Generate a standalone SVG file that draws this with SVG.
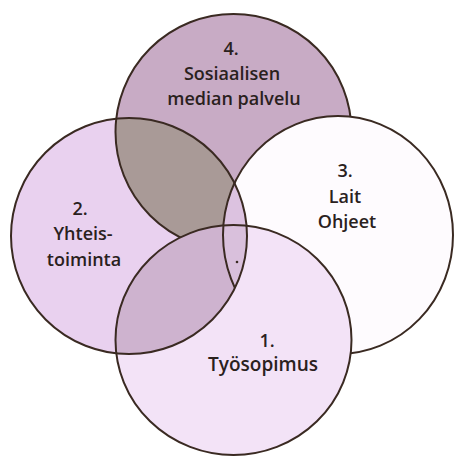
<svg xmlns="http://www.w3.org/2000/svg" width="455" height="459" viewBox="0 0 455 459">
  <defs>
    <clipPath id="clipT"><circle cx="233.5" cy="132" r="118"/></clipPath>
    <clipPath id="clipL"><circle cx="129" cy="236" r="118"/></clipPath>
    <clipPath id="clipR"><ellipse cx="338" cy="235" rx="115" ry="119"/></clipPath>
    <clipPath id="clipB"><ellipse cx="233.5" cy="340" rx="118" ry="115"/></clipPath>
  </defs>
  <style>
    .ln { stroke: #3a2a22; stroke-width: 2; }
    .nf { fill: none; }
    .lbl { font-family: "Open Sans", "Liberation Sans", sans-serif; font-weight: 600; font-size: 18px; fill: #2a211d; text-anchor: middle; }
  </style>
  <rect width="455" height="459" fill="#ffffff"/>
  <g id="circle-4">
    <circle cx="233.5" cy="132" r="118" fill="#c8abc5" class="ln"/>
  </g>
  <g id="circle-3">
    <ellipse cx="338" cy="235" rx="115" ry="119" fill="#fefbfe" class="ln"/>
  </g>
  <g id="circle-2">
    <circle cx="129" cy="236" r="118" fill="#e9d1ef"/>
  </g>
  <g id="overlap-2-4">
    <circle cx="233.5" cy="132" r="118" fill="#a99a97" clip-path="url(#clipL)"/>
  </g>
  <g id="overlap-2-3">
    <ellipse cx="338" cy="235" rx="115" ry="119" fill="#dcc2e0" clip-path="url(#clipL)"/>
  </g>
  <g id="edge-4-in-2">
    <circle cx="233.5" cy="132" r="118" class="ln nf" clip-path="url(#clipL)"/>
  </g>
  <g id="circle-1">
    <ellipse cx="233.5" cy="340" rx="118" ry="115" fill="#f3e3f7"/>
  </g>
  <g id="overlap-1-2">
    <circle cx="129" cy="236" r="118" fill="#ceb3cf" clip-path="url(#clipB)"/>
    <g clip-path="url(#clipL)">
      <ellipse cx="338" cy="235" rx="115" ry="119" fill="#d9c0dc" clip-path="url(#clipB)"/>
    </g>
  </g>
  <g id="connectors">
    <ellipse cx="338" cy="235" rx="115" ry="119" class="ln nf" clip-path="url(#clipL)"/>
    <circle cx="129" cy="236" r="118" class="ln nf"/>
    <ellipse cx="233.5" cy="340" rx="118" ry="115" class="ln nf"/>
    <circle cx="237" cy="262" r="1.3" fill="#3a2a22"/>
  </g>
  <g id="labels">
    <text class="lbl" x="231" y="55">4.</text>
    <text class="lbl" x="232" y="80">Sosiaalisen</text>
    <text class="lbl" x="234" y="105">median palvelu</text>
    <text class="lbl" x="345" y="177">3.</text>
    <text class="lbl" x="345" y="203">Lait</text>
    <text class="lbl" x="347" y="228">Ohjeet</text>
    <text class="lbl" x="80" y="215">2.</text>
    <text class="lbl" x="83" y="240">Yhteis-</text>
    <text class="lbl" x="84" y="266">toiminta</text>
    <text class="lbl" x="267" y="347">1.</text>
    <text class="lbl" x="263" y="371" style="font-size:19px">Työsopimus</text>
  </g>
</svg>
